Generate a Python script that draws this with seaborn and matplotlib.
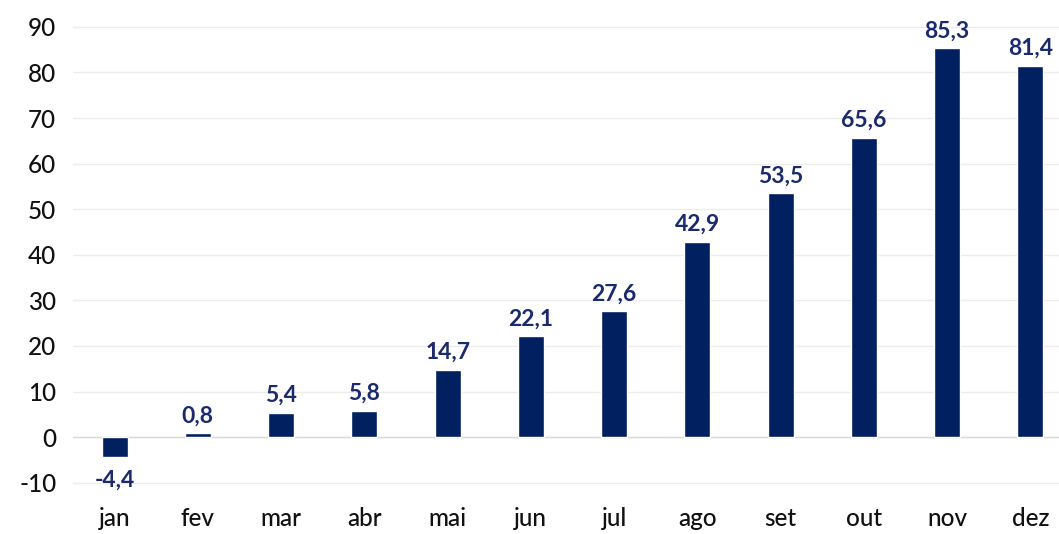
import matplotlib
matplotlib.use("Agg")
import matplotlib.pyplot as plt
import seaborn as sns
import pandas as pd

# Values
months = ["jan", "fev", "mar", "abr", "mai", "jun", "jul", "ago", "set", "out", "nov", "dez"]
values = [-4.4, 0.8, 5.4, 5.8, 14.7, 22.1, 27.6, 42.9, 53.5, 65.6, 85.3, 81.4]
yticks = [-10, 0, 10, 20, 30, 40, 50, 60, 70, 80, 90]

df = pd.DataFrame({"month": months, "value": values})

sns.set_style("white")
plt.rcParams["font.family"] = ["Lato", "DejaVu Sans"]

bar_color = "#002060"
label_color = "#1a2a6c"

fig = plt.figure(figsize=(10.59, 5.34), dpi=100)
# axes runs a little past the right edge, like the cropped original
ax = fig.add_axes([73 / 1059, 39 / 534, 999 / 1059, 495 / 534])

sns.barplot(data=df, x="month", y="value", color=bar_color, width=0.31,
            saturation=1, ax=ax, zorder=3)

ax.set_ylim(-12.7, 95.9)
ax.set_xlim(-0.5, len(months) - 0.5)
ax.set_yticks(yticks)
ax.set_yticklabels([str(t) for t in yticks])
ax.grid(axis="y", color="#ececec", linewidth=1, zorder=0)
ax.axhline(0, color="#d9d9d9", linewidth=1, zorder=1)

for s in ax.spines.values():
    s.set_visible(False)

ax.tick_params(axis="y", length=0, pad=12, labelsize=17.5, labelcolor="#111111")
ax.tick_params(axis="x", length=0, pad=9, labelsize=17.5, labelcolor="#111111")
for lbl in ax.get_xticklabels() + ax.get_yticklabels():
    lbl.set_fontweight("medium")
ax.set_xlabel("")
ax.set_ylabel("")

# value labels
for i, v in enumerate(values):
    txt = f"{v:.1f}".replace(".", ",")
    if v >= 0:
        ax.annotate(txt, (i, v), xytext=(0, 5), textcoords="offset points",
                    ha="center", va="bottom", fontsize=16.5, fontweight="bold",
                    color=label_color)
    else:
        ax.annotate(txt, (i, v), xytext=(0, -9), textcoords="offset points",
                    ha="center", va="top", fontsize=16.5, fontweight="bold",
                    color=label_color)

fig.savefig("out.png", dpi=100)
